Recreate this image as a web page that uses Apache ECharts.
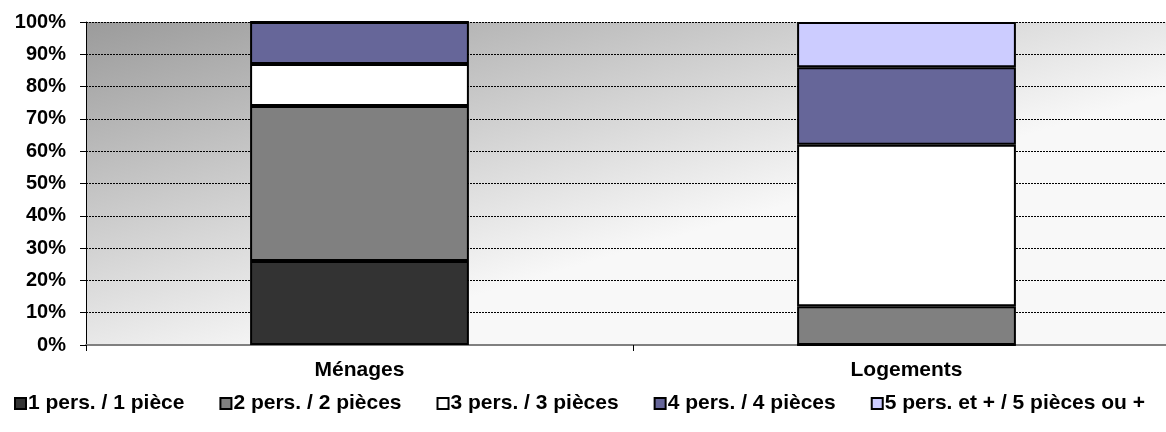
<!DOCTYPE html>
<html>
<head>
<meta charset="utf-8">
<script src="https://cdn.jsdelivr.net/npm/echarts@6/dist/echarts.min.js"></script>
<style>
  html, body { margin: 0; padding: 0; background: #ffffff; }
  #chart { width: 1166px; height: 432px; }
</style>
</head>
<body>
<div id="chart"></div>
<script>
// Household sizes vs. dwelling sizes, shares in %
const categories = ['Ménages', 'Logements'];
const seriesNames = [
  '1 pers. / 1 pièce',
  '2 pers. / 2 pièces',
  '3 pers. / 3 pièces',
  '4 pers. / 4 pièces',
  '5 pers. et + / 5 pièces ou +'
];
const size1 = [26, 0];
const size2 = [48, 12];
const size3 = [13, 50];
const size4 = [13, 24];
const size5 = [0, 14];
const seriesColors = ['#333333', '#808080', '#ffffff', '#666699', '#ccccff'];
const yTicks = [0, 10, 20, 30, 40, 50, 60, 70, 80, 90, 100];

const values = [size1, size2, size3, size4, size5];
const font = 'Liberation Sans, Arial, sans-serif';

const chart = echarts.init(document.getElementById('chart'));
chart.setOption({
  animation: false,
  backgroundColor: '#ffffff',
  textStyle: { fontFamily: font },
  grid: {
    left: 86, top: 22, width: 1094, height: 323,
    outerBoundsMode: 'none',
    containLabel: false,
    show: true,
    borderWidth: 0,
    backgroundColor: new echarts.graphic.LinearGradient(86, 22, 190, 379, [
      { offset: 0, color: '#9b9b9b' },
      { offset: 1, color: '#f8f8f8' }
    ], true)
  },
  legend: {
    data: seriesNames,
    left: 14, top: 393,
    width: 1200,
    padding: 0,
    itemWidth: 11, itemHeight: 11,
    itemGap: 35,
    icon: 'rect',
    textStyle: { fontFamily: font, fontWeight: 'bold', fontSize: 21, color: '#000', padding: [0, 0, 0, -3] }
  },
  xAxis: {
    type: 'category',
    data: categories,
    axisLine: { lineStyle: { color: '#808080', width: 2 } },
    axisTick: { show: true, length: 6, lineStyle: { color: '#000', width: 1 } },
    axisLabel: { margin: 15, fontFamily: font, fontWeight: 'bold', fontSize: 21, color: '#000' },
    splitLine: { show: false }
  },
  yAxis: {
    type: 'value',
    min: yTicks[0], max: yTicks[yTicks.length - 1], interval: yTicks[1] - yTicks[0],
    axisLine: { show: true, lineStyle: { color: '#000', width: 1 } },
    axisTick: { show: true, length: 6, lineStyle: { color: '#000', width: 1 } },
    axisLabel: {
      margin: 20, fontFamily: font, fontWeight: 'bold', fontSize: 20, color: '#000',
      formatter: v => v + '%'
    },
    splitLine: { show: true, lineStyle: { color: '#000', width: 1, type: [2, 1] } }
  },
  series: values.map((vals, i) => ({
    name: seriesNames[i],
    type: 'bar',
    stack: 'total',
    data: vals,
    barWidth: '40%',
    itemStyle: { color: seriesColors[i], borderColor: '#000', borderWidth: 2 },
    emphasis: { disabled: true }
  }))
});
</script>
</body>
</html>
